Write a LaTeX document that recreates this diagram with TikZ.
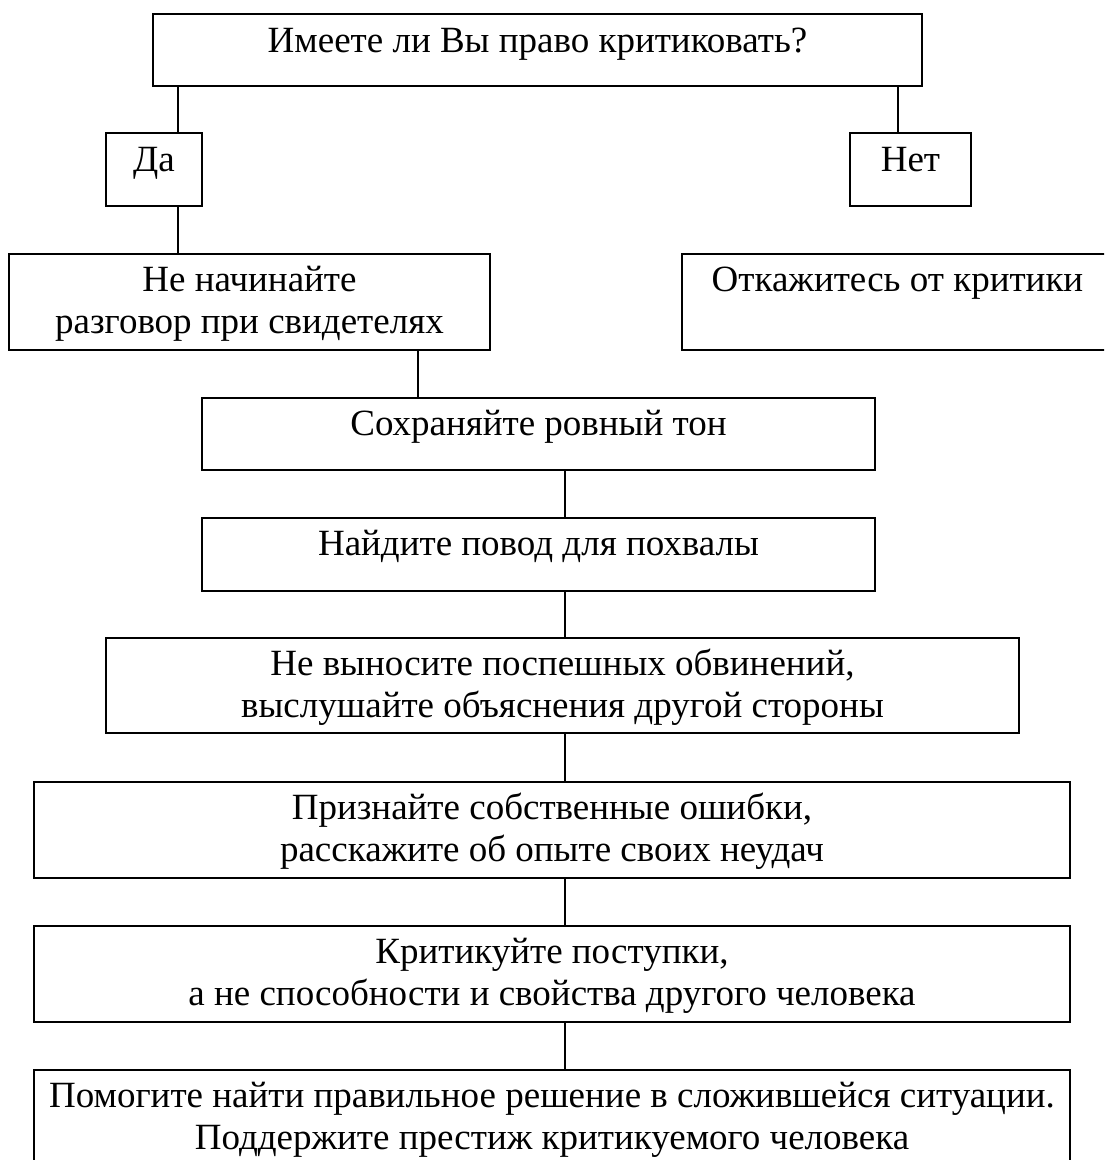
\documentclass[tikz,border=0pt]{standalone}
\usepackage{fontspec}
\setmainfont{Liberation Serif}
\begin{document}
\begin{tikzpicture}[x=1pt,y=-1pt,
  box/.style={draw, line width=1.6pt, rectangle, inner sep=0pt},
  conn/.style={draw, line width=1.3pt},
  txt/.style={anchor=base, inner sep=0pt, font=\fontsize{37}{42}\selectfont}]
\clip (0,0) rectangle (1104,1160);
\fill[white] (0,0) rectangle (1104,1160);
% boxes
\node[box, minimum width=769pt, minimum height=72pt] (q) at (537.5,50) {};
\node[box, minimum width=96pt, minimum height=73pt] (da) at (154,169.5) {};
\node[box, minimum width=121pt, minimum height=73pt] (net) at (910.5,169.5) {};
\node[box, minimum width=481pt, minimum height=96pt] (a1) at (249.5,302) {};
\node[box, minimum width=431pt, minimum height=96pt] (b1) at (897.5,302) {};
\node[box, minimum width=673pt, minimum height=72pt] (a2) at (538.5,434) {};
\node[box, minimum width=673pt, minimum height=73pt] (a3) at (538.5,554.5) {};
\node[box, minimum width=913pt, minimum height=95pt] (a4) at (562.5,685.5) {};
\node[box, minimum width=1036pt, minimum height=96pt] (a5) at (552,830) {};
\node[box, minimum width=1036pt, minimum height=96pt] (a6) at (552,974) {};
\node[box, minimum width=1036pt, minimum height=100pt] (a7) at (552,1120) {};
% texts
\node[txt] (tq) at (537.5,52) {Имеете ли Вы право критиковать?};
\node[txt] (tda) at (154,171) {Да};
\node[txt] (tnet) at (910.5,171) {Нет};
\node[txt] (ta1a) at (249.5,291) {Не начинайте};
\node[txt] (ta1b) at (249.5,333) {разговор при свидетелях};
\node[txt] (tb1) at (897.5,291) {Откажитесь от критики};
\node[txt] (ta2) at (538.5,435) {Сохраняйте ровный тон};
\node[txt] (ta3) at (538.5,555) {Найдите повод для похвалы};
\node[txt] (ta4a) at (562.5,675) {Не выносите поспешных обвинений,};
\node[txt] (ta4b) at (562.5,717) {выслушайте объяснения другой стороны};
\node[txt] (ta5a) at (552,819) {Признайте собственные ошибки,};
\node[txt] (ta5b) at (552,861) {расскажите об опыте своих неудач};
\node[txt] (ta6a) at (552,963) {Критикуйте поступки,};
\node[txt] (ta6b) at (552,1005) {а не способности и свойства другого человека};
\node[txt] (ta7a) at (552,1107) {Помогите найти правильное решение в сложившейся ситуации.};
\node[txt] (ta7b) at (552,1149) {Поддержите престиж критикуемого человека};
% connector x positions
\coordinate (xa) at (178,0);
\coordinate (xb) at (898,0);
\coordinate (xc) at (418,0);
\coordinate (xd) at (565,0);
\draw[conn] (q.south -| xa) -- (da.north -| xa);
\draw[conn] (q.south -| xb) -- (net.north -| xb);
\draw[conn] (da.south -| xa) -- (a1.north -| xa);
\draw[conn] (a1.south -| xc) -- (a2.north -| xc);
\draw[conn] (a2.south -| xd) -- (a3.north -| xd);
\draw[conn] (a3.south -| xd) -- (a4.north -| xd);
\draw[conn] (a4.south -| xd) -- (a5.north -| xd);
\draw[conn] (a5.south -| xd) -- (a6.north -| xd);
\draw[conn] (a6.south -| xd) -- (a7.north -| xd);
\end{tikzpicture}
\end{document}
